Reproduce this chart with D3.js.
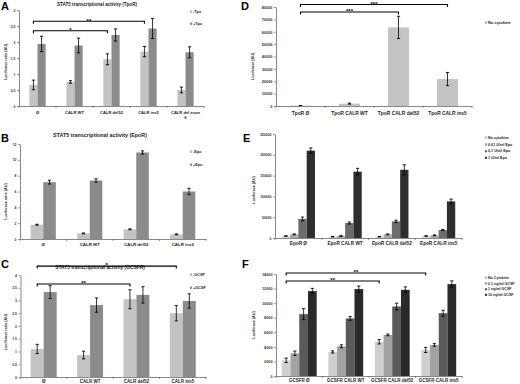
<!DOCTYPE html>
<html lang="en">
<head>
<meta charset="UTF-8">
<title>STAT5 luciferase panels</title>
<script src="https://cdn.jsdelivr.net/npm/d3@7"></script>
<style>
  body { margin: 0; background: #fff; }
  svg { font-family: "Liberation Sans", Arial, sans-serif; }
</style>
</head>
<body>
<div class="canvas"></div>
<script>
// ---- data ----
// A: TpoR ratio
const catsA = ['Ø', 'CALR WT', 'CALR del52', 'CALR ins5', 'CALR del exon 9'];
const seriesA = ['-Tpo', '+Tpo'];
const meanA = [[0.66, 0.75, 1.46, 1.70, 0.50], [1.94, 1.89, 2.22, 2.42, 1.68]];
const errA = [[0.15, 0.04, 0.17, 0.16, 0.09], [0.24, 0.23, 0.19, 0.31, 0.17]];
const ticksA = [0, 0.5, 1, 1.5, 2, 2.5, 3];
const sigA = [{ from: 0, to: 3, level: 2.65, label: '**' }, { from: 0, to: 2, level: 2.35, label: '*' }];

// B: EpoR ratio
const catsB = ['Ø', 'CALR WT', 'CALR del52', 'CALR ins5'];
const seriesB = ['-Epo', '+Epo'];
const meanB = [[1.8, 0.71, 1.22, 0.59], [7.18, 7.39, 10.93, 6.0]];
const errB = [[0.06, 0.05, 0.06, 0.05], [0.24, 0.22, 0.2, 0.4]];
const ticksB = [0, 2, 4, 6, 8, 10, 12];

// C: GCSFR ratio
const catsC = ['Ø', 'CALR WT', 'CALR del52', 'CALR ins5'];
const seriesC = ['-GCSF', '+GCSF'];
const meanC = [[1.1, 0.86, 3.05, 2.5], [3.33, 2.82, 3.22, 2.98]];
const errC = [[0.18, 0.15, 0.37, 0.3], [0.25, 0.28, 0.32, 0.28]];
const ticksC = [0, 0.5, 1, 1.5, 2, 2.5, 3, 3.5, 4];
const sigC = [{ from: 0, to: 3, level: 4.35, label: '*' }, { from: 0, to: 2, level: 3.65, label: '**' }];

// D: TpoR luciferase, no cytokine
const catsD = ['TpoR Ø', 'TpoR CALR WT', 'TpoR CALR del52', 'TpoR CALR ins5'];
const seriesD = ['No cytokine'];
const meanD = [[300, 1900, 63500, 21800]];
const errD = [[100, 400, 9000, 5300]];
const ticksD = [0, 10000, 20000, 30000, 40000, 50000, 60000, 70000, 80000];
const sigD = [{ from: 0, to: 3, level: 82000, label: '***' }, { from: 0, to: 2, level: 76000, label: '***' }];

// E: EpoR luciferase
const catsE = ['EpoR Ø', 'EpoR CALR WT', 'EpoR CALR del52', 'EpoR CALR ins5'];
const seriesE = ['No cytokine', '0.01 U/ml Epo', '0.1 U/ml Epo', '1 U/ml Epo'];
const meanE = [
  [4800, 3200, 3200, 4800],
  [8800, 4800, 8800, 6400],
  [45700, 36000, 40000, 19200],
  [210000, 159500, 164000, 88000]
];
const errE = [
  [800, 600, 600, 700],
  [1000, 800, 1000, 900],
  [4500, 2500, 2800, 1500],
  [6500, 8000, 12000, 5500]
];
const ticksE = [0, 50000, 100000, 150000, 200000, 250000];

// F: GCSFR luciferase
const catsF = ['GCSFR Ø', 'GCSFR CALR WT', 'GCSFR CALR del52', 'GCSFR CALR ins5'];
const seriesF = ['No Cytokine', '0.1 ng/ml GCSF', '1 ng/ml GCSF', '10 ng/ml GCSF'];
const meanF = [
  [2150, 3300, 4700, 3580],
  [3120, 4080, 5640, 4260],
  [8490, 7900, 9540, 8620],
  [11650, 11930, 11830, 12610]
];
const errF = [
  [300, 150, 300, 350],
  [300, 200, 120, 180],
  [750, 250, 450, 400],
  [380, 420, 400, 450]
];
const ticksF = [0, 2000, 4000, 6000, 8000, 10000, 12000, 14000];
const sigF = [{ from: 0, to: 3, level: 14140, label: '**' }, { from: 0, to: 2, level: 13040, label: '**' }];

const greys2 = ['#c3c3c3', '#8b8b8b'];
const greysE = ['#d6d6d6', '#a9a9a9', '#6c6c6c', '#2e2e2e'];
const greysF = ['#cfcfcf', '#a2a2a2', '#5a5a5a', '#2a2a2a'];

const svg = d3.select('.canvas')
  .append('svg')
  .attr('width', 520)
  .attr('height', 384);

// shrink/grow a text's font so it spans a given width
function fitWidth(sel, w) {
  const n = sel.node();
  const fs = parseFloat(sel.attr('font-size'));
  sel.attr('font-size', fs * w / n.getComputedTextLength());
}

function drawPanel(p) {
  const g = svg.append('g');
  const x = d3.scaleBand().domain(p.cats).range(p.xr);
  const y = d3.scaleLinear().domain([0, p.max]).range(p.yr);
  const bw = x.bandwidth();
  const inner = d3.scaleBand().domain(p.series).range([-bw * p.fill / 2, bw * p.fill / 2]);
  const cx = c => x(c) + bw / 2;

  // panel letter + title
  g.append('text').attr('x', p.letter[1]).attr('y', p.letter[2])
    .attr('font-size', 11).attr('font-weight', 'bold').text(p.letter[0]);
  if (p.title) {
    const t = g.append('text').attr('x', p.title[1]).attr('y', p.title[2])
      .attr('text-anchor', 'middle').attr('font-size', 5).attr('font-weight', 'bold')
      .attr('fill', '#222').text(p.title[0]);
    fitWidth(t, p.title[3]);
  }

  // bars and error bars
  p.series.forEach((s, si) => {
    g.selectAll(null).data(p.cats).enter().append('rect')
      .attr('x', c => cx(c) + inner(s))
      .attr('y', (c, i) => y(p.means[si][i]))
      .attr('width', inner.bandwidth())
      .attr('height', (c, i) => y(0) - y(p.means[si][i]))
      .attr('fill', p.colors[si]);

    const eb = g.selectAll(null).data(p.cats).enter().append('g')
      .attr('transform', c => `translate(${cx(c) + inner(s) + inner.bandwidth() / 2},0)`);
    eb.append('line')
      .attr('y1', (c, i) => y(p.means[si][i] - p.errs[si][i]))
      .attr('y2', (c, i) => y(p.means[si][i] + p.errs[si][i]))
      .attr('stroke', '#000').attr('stroke-width', 0.8);
    [-1, 1].forEach(sg => {
      eb.append('line').attr('x1', -1.6).attr('x2', 1.6)
        .attr('y1', (c, i) => y(p.means[si][i] + sg * p.errs[si][i]))
        .attr('y2', (c, i) => y(p.means[si][i] + sg * p.errs[si][i]))
        .attr('stroke', '#000').attr('stroke-width', 0.9);
    });
  });

  // y axis
  const yAxis = d3.axisLeft(y).tickValues(p.ticks).tickSize(2).tickSizeOuter(0).tickPadding(1.5)
    .tickFormat(d3.format(p.fmt));
  const ya = g.append('g').attr('transform', `translate(${p.xr[0]},0)`).call(yAxis);
  ya.select('.domain').attr('stroke', '#555').attr('stroke-width', 0.7);
  ya.selectAll('.tick line').attr('stroke', '#555').attr('stroke-width', 0.6);
  ya.selectAll('text').attr('font-size', p.tickFs).attr('font-family', 'Liberation Sans')
    .attr('font-weight', 'bold').attr('fill', '#333');

  // x axis
  const xa = g.append('g').attr('transform', `translate(0,${y(0)})`)
    .call(d3.axisBottom(x).tickSize(0).tickSizeOuter(0).tickFormat(''));
  xa.select('.domain').attr('stroke', '#555').attr('stroke-width', 0.7);
  xa.selectAll('.bound').data(p.cats.concat(['end'])).enter().append('line')
    .attr('x1', (c, i) => i < p.cats.length ? x(c) : p.xr[1])
    .attr('x2', (c, i) => i < p.cats.length ? x(c) : p.xr[1])
    .attr('y1', 0).attr('y2', 2).attr('stroke', '#555').attr('stroke-width', 0.6);

  // category labels (wrap when wider than the wrap width)
  const wrapW = p.wrapW || bw;
  p.cats.forEach(c => {
    const t = g.append('text').attr('x', cx(c)).attr('y', y(0) + p.catDy)
      .attr('text-anchor', 'middle').attr('font-size', p.catFs)
      .attr('font-weight', 'bold').attr('fill', '#222').text(c);
    if (t.node().getComputedTextLength() > wrapW) {
      const words = c.split(' ');
      const last = words.pop();
      t.text(null);
      t.append('tspan').attr('x', cx(c)).text(words.join(' '));
      t.append('tspan').attr('x', cx(c)).attr('dy', p.catFs * 1.2).text(last);
    }
  });

  // y label
  g.append('text')
    .attr('transform', `translate(${p.ylab[1]},${(p.yr[0] + p.yr[1]) / 2 + p.ylab[2]}) rotate(-90)`)
    .attr('text-anchor', 'middle').attr('font-size', p.ylab[3]).attr('font-weight', 'bold')
    .attr('fill', '#333').text(p.ylab[0]);

  // legend
  p.series.forEach((s, si) => {
    const ly = p.leg[1] + si * p.leg[2];
    g.append('rect').attr('x', p.leg[0]).attr('y', ly - 2.2).attr('width', 2).attr('height', 2)
      .attr('fill', p.colors[si]).attr('stroke', '#777').attr('stroke-width', 0.2);
    g.append('text').attr('x', p.leg[0] + 3).attr('y', ly).attr('font-size', p.legFs)
      .attr('font-weight', 'bold').attr('fill', '#222').text(s);
  });

  // significance brackets
  const barMid = ci => cx(p.cats[ci]) + inner(p.series[0]) + inner.bandwidth() / 2;
  (p.sig || []).forEach(b => {
    const x1 = barMid(b.from), x2 = barMid(b.to), yy = y(b.level);
    g.append('path')
      .attr('d', `M${x1},${yy + 2.5}V${yy}H${x2}V${yy + 2.5}`)
      .attr('fill', 'none').attr('stroke', '#000').attr('stroke-width', 1.1);
    g.append('text').attr('x', (x1 + x2) / 2).attr('y', yy + 1.4)
      .attr('text-anchor', 'middle').attr('font-size', 6).attr('font-weight', 'bold')
      .text(b.label);
  });
}

drawPanel({
  letter: ['A', 1, 10], title: ['STAT5 transcriptional activity (TpoR)', 97, 6, 80],
  cats: catsA, series: seriesA, means: meanA, errs: errA, colors: greys2,
  xr: [19, 204], yr: [106, 10], max: 3, fill: 0.44, ticks: ticksA, fmt: '',
  tickFs: 3.4, catFs: 4.1, catDy: 8, wrapW: 30, ylab: ['Luciferase ratio (AU)', 7, 4, 3.7],
  leg: [190, 13, 12], legFs: 3.8, sig: sigA
});

drawPanel({
  letter: ['D', 241, 10],
  cats: catsD, series: seriesD, means: meanD, errs: errD, colors: [greys2[0]],
  xr: [276, 472], yr: [106, 7], max: 80000, fill: 0.43, ticks: ticksD, fmt: 'd',
  tickFs: 3.9, catFs: 4.9, catDy: 8.5, ylab: ['Luciferase (AU)', 254, 10, 3.7],
  leg: [485, 24, 0], legFs: 4, sig: sigD
});

drawPanel({
  letter: ['B', 1, 142], title: ['STAT5 transcriptional activity (EpoR)', 100, 137, 94],
  cats: catsB, series: seriesB, means: meanB, errs: errB, colors: greys2,
  xr: [20, 206], yr: [239, 144], max: 12, fill: 0.54, ticks: ticksB, fmt: '',
  tickFs: 3.4, catFs: 4.4, catDy: 6.5, ylab: ['Luciferase ratio (AU)', 7, 10, 3.7],
  leg: [190, 153, 13], legFs: 3.8
});

drawPanel({
  letter: ['E', 243, 142],
  cats: catsE, series: seriesE, means: meanE, errs: errE, colors: greysE,
  xr: [275, 462], yr: [238, 134], max: 250000, fill: 0.71, ticks: ticksE, fmt: 'd',
  tickFs: 3.4, catFs: 4.7, catDy: 6.5, ylab: ['Luciferase (AU)', 255, 4, 3.7],
  leg: [485, 139, 6.7], legFs: 3.7
});

drawPanel({
  letter: ['C', 1, 268], title: ['STAT5 transcriptional activity (GCSFR)', 100, 269, 90],
  cats: catsC, series: seriesC, means: meanC, errs: errC, colors: greys2,
  xr: [20.5, 206], yr: [377, 275], max: 4, fill: 0.56, ticks: ticksC, fmt: '',
  tickFs: 3.4, catFs: 4.5, catDy: 5.5, ylab: ['Luciferase ratio (AU)', 7, 6, 3.7],
  leg: [190, 276, 13], legFs: 3.8, sig: sigC
});

drawPanel({
  letter: ['F', 242, 268],
  cats: catsF, series: seriesF, means: meanF, errs: errF, colors: greysF,
  xr: [276, 462], yr: [376, 274], max: 14000, fill: 0.75, ticks: ticksF, fmt: 'd',
  tickFs: 3.8, catFs: 4.5, catDy: 5.5, wrapW: 60, ylab: ['Luciferase (AU)', 255, 0, 3.7],
  leg: [485, 279, 5.7], legFs: 3.6, sig: sigF
});
</script>
</body>
</html>
